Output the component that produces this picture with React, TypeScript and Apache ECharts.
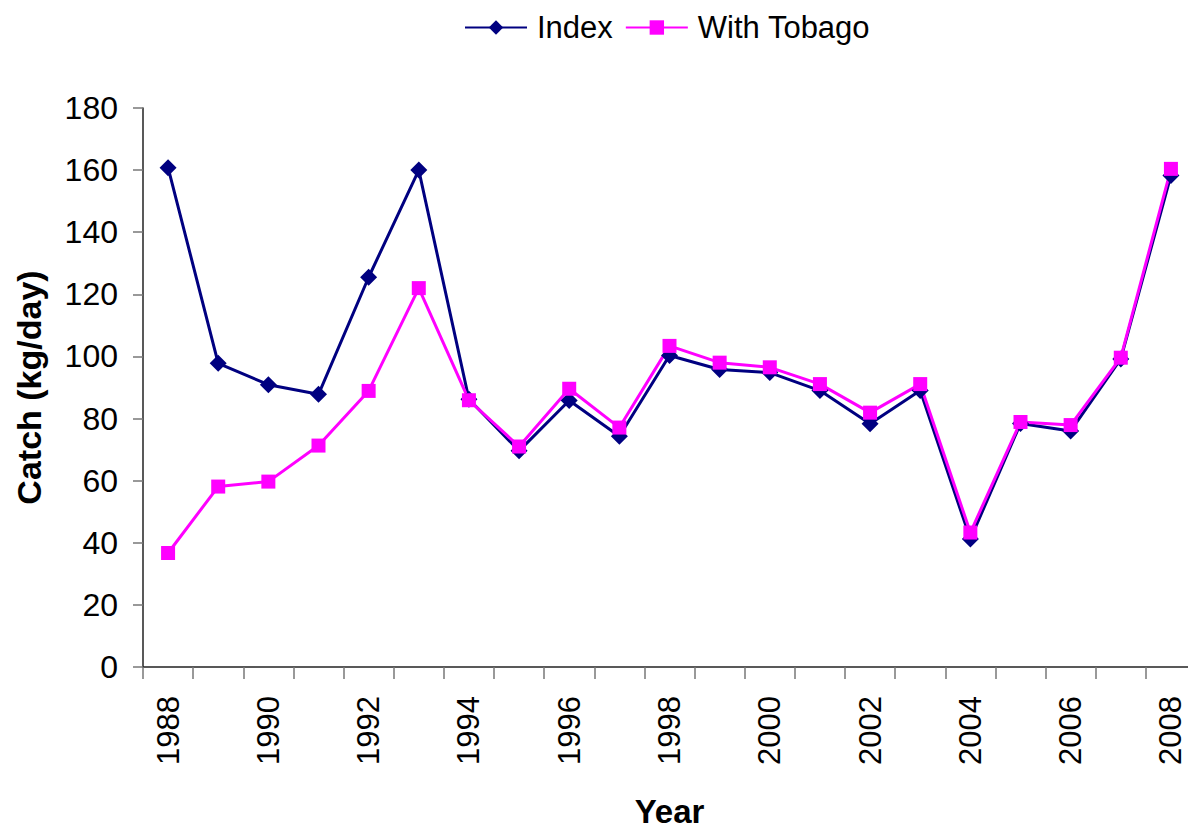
import React, { useEffect, useRef } from "react";
import * as echarts from "echarts";

const years = [
  "1988", "1989", "1990", "1991", "1992", "1993", "1994", "1995", "1996", "1997", "1998",
  "1999", "2000", "2001", "2002", "2003", "2004", "2005", "2006", "2007", "2008",
];
const indexValues = [
  160.8, 97.8, 90.9, 87.8, 125.5, 160.0, 86.2, 69.6, 85.8, 74.3, 100.3,
  95.8, 94.8, 89.0, 78.3, 89.0, 41.2, 78.4, 76.0, 99.2, 158.3,
];
const tobagoValues = [
  36.7, 58.1, 59.7, 71.3, 88.9, 122.0, 85.9, 71.0, 89.6, 77.1, 103.4,
  98.0, 96.5, 91.1, 81.9, 91.1, 43.3, 78.9, 77.9, 99.6, 160.4,
];

const FONT = "Liberation Sans, Arial, sans-serif";

export default function App() {
  const ref = useRef<HTMLDivElement>(null);
  useEffect(() => {
    if (!ref.current) return;
    const chart = echarts.init(ref.current, undefined, { renderer: "svg" });
    chart.setOption({
      animation: false,
      backgroundColor: "#ffffff",
      textStyle: { fontFamily: FONT },
      legend: {
        left: 459,
        top: 7,
        itemWidth: 62,
        itemHeight: 18,
        itemGap: 12,
        textStyle: { fontSize: 31, color: "#000", fontFamily: FONT, padding: [0, 0, 0, 5] },
        data: ["Index", "With Tobago"],
      },
      grid: { left: 143, right: 14, top: 108, bottom: 161, containLabel: false },
      xAxis: {
        type: "category",
        data: years,
        boundaryGap: true,
        name: "Year",
        nameLocation: "middle",
        nameGap: 128,
        nameTextStyle: { fontSize: 33, fontWeight: "bold", color: "#000", fontFamily: FONT },
        axisLine: { show: true, lineStyle: { color: "#222", width: 1.5 } },
        axisTick: { show: true, interval: 0, length: 12, lineStyle: { color: "#777", width: 1.5 } },
        axisLabel: {
          interval: 1,
          rotate: 90,
          fontSize: 31,
          lineHeight: 27,
          margin: 29,
          color: "#000",
          fontFamily: FONT,
        },
        splitLine: { show: false },
      },
      yAxis: {
        type: "value",
        min: 0,
        max: 180,
        interval: 20,
        name: "Catch (kg/day)",
        nameLocation: "middle",
        nameGap: 97,
        nameTextStyle: { fontSize: 34, fontWeight: "bold", color: "#000", fontFamily: FONT },
        axisLine: { show: true, lineStyle: { color: "#222", width: 1.5 } },
        axisTick: { show: true, length: 10, lineStyle: { color: "#777", width: 1.5 } },
        axisLabel: { fontSize: 32, margin: 25, color: "#000", fontFamily: FONT },
        splitLine: { show: false },
      },
      series: [
        {
          name: "Index",
          type: "line",
          data: indexValues,
          symbol: "diamond",
          symbolSize: 17,
          lineStyle: { color: "#000080", width: 3 },
          itemStyle: { color: "#000080" },
        },
        {
          name: "With Tobago",
          type: "line",
          data: tobagoValues,
          symbol: "rect",
          symbolSize: 14,
          lineStyle: { color: "#ff00ff", width: 3 },
          itemStyle: { color: "#ff00ff" },
        },
      ],
    });
    return () => chart.dispose();
  }, []);
  return (
    <div style={{ position: "fixed", left: 0, top: 0, width: 1188, height: 833, overflow: "hidden", background: "#fff" }}>
      <div ref={ref} style={{ width: 1210, height: 833 }} />
    </div>
  );
}
